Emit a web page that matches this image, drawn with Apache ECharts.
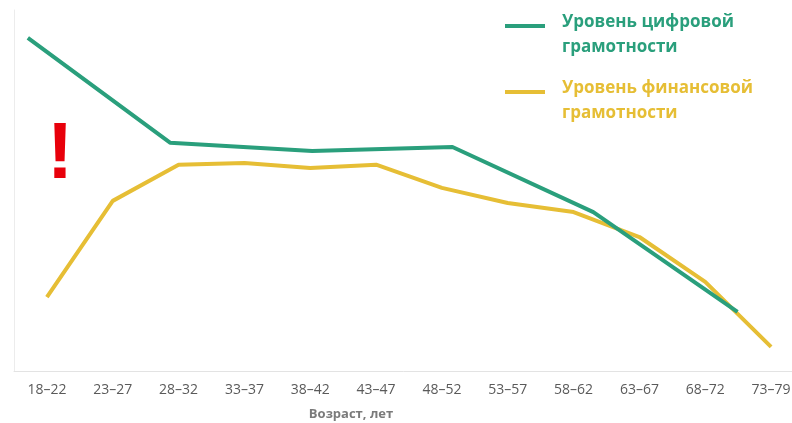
<!DOCTYPE html>
<html><head><meta charset="utf-8">
<script src="https://cdn.jsdelivr.net/npm/echarts@6/dist/echarts.min.js"></script>
<style>html,body{margin:0;padding:0;background:#fff}#c{width:792px;height:423px}</style>
</head><body><div id="c"></div>
<script>
const categories = ['18–22','23–27','28–32','33–37','38–42','43–47','48–52','53–57','58–62','63–67','68–72','73–79'];
const financialLevel = [20.6, 47.2, 57.2, 57.7, 56.3, 57.2, 50.8, 46.6, 44.1, 37.2, 24.8, 6.8];
const digitalX = [-0.29, 1.87, 4.03, 6.16, 8.30, 10.49];
const digitalLevel = [92.3, 63.3, 61.0, 62.1, 44.1, 16.5];
const seriesNames = ['Уровень цифровой\nграмотности', 'Уровень финансовой\nграмотности'];
const axisTitle = 'Возраст, лет';

const GREEN = '#2a9f7c', YELLOW = '#e6be35';
const chart = echarts.init(document.getElementById('c'));
chart.setOption({
  animation: false,
  grid: { left: 14, width: 790, top: 10, height: 361.5, outerBoundsMode: 'none', containLabel: false },
  xAxis: [
    { type: 'category', data: categories, boundaryGap: true,
      axisLine: { lineStyle: { color: '#e3e3e3', width: 1 } },
      axisTick: { show: false },
      axisLabel: { color: '#5a5a5a', fontSize: 14, fontFamily: 'Open Sans', margin: 12 } },
    { type: 'value', min: -0.5, max: 11.5, show: false }
  ],
  yAxis: { type: 'value', min: 0, max: 100,
    axisLine: { show: true, onZero: false, lineStyle: { color: '#ececec' } },
    axisLabel: { show: false }, axisTick: { show: false }, splitLine: { show: false } },
  legend: {
    orient: 'vertical', left: 505, top: 10, itemGap: 16, padding: 0,
    icon: 'path://M0,0L40,0L40,4L0,4Z M0,22L0.01,22Z', itemWidth: 40, itemHeight: 22,
    textStyle: { fontSize: 17, fontWeight: 'bold', fontFamily: 'Open Sans', lineHeight: 25, padding: [0,0,0,12] },
    data: [
      { name: seriesNames[0], textStyle: { color: GREEN } },
      { name: seriesNames[1], textStyle: { color: YELLOW } }
    ]
  },
  series: [
    { name: seriesNames[1], type: 'line', xAxisIndex: 0, data: financialLevel,
      symbol: 'none', lineStyle: { color: YELLOW, width: 4 }, itemStyle: { color: YELLOW }, z: 2 },
    { name: seriesNames[0], type: 'line', xAxisIndex: 1, clip: false,
      data: digitalX.map((x, i) => [x, digitalLevel[i]]),
      symbol: 'none', lineStyle: { color: GREEN, width: 4 }, itemStyle: { color: GREEN }, z: 3 }
  ],
  graphic: [
    { type: 'text', x: 351, y: 414,
      style: { text: axisTitle, fill: '#7a7a7a', font: 'bold 13px "Open Sans"', align: 'center', verticalAlign: 'middle' } },
    { type: 'text', x: 60, y: 116,
      style: { text: '!', fill: '#e8000b', font: 'bold 80px "Liberation Sans"', align: 'center', verticalAlign: 'top' } }
  ]
});
</script></body></html>
